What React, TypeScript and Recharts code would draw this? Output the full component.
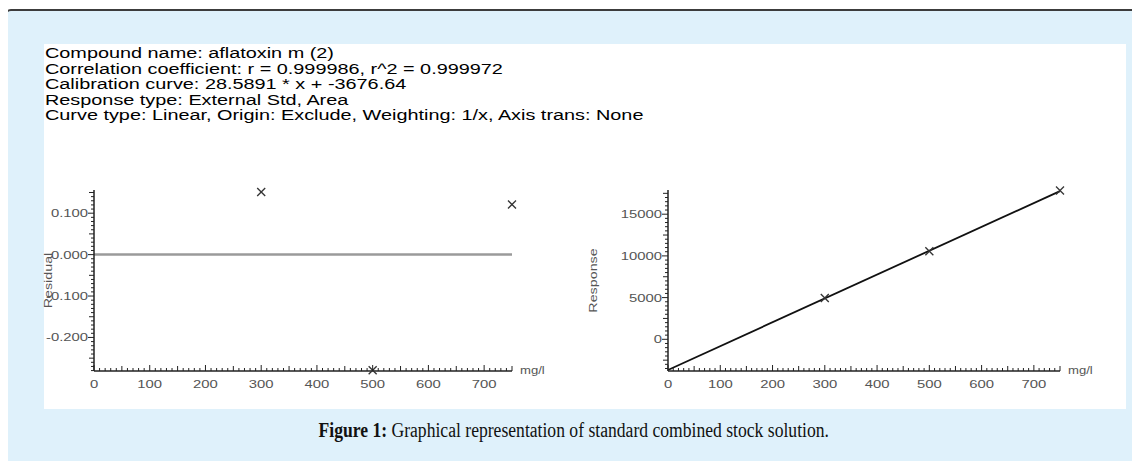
import React from "react";
import {
  ComposedChart,
  Scatter,
  Line,
  XAxis,
  YAxis,
  ReferenceLine,
} from "recharts";

// concentrations (mg/l) of the three standards
const levels = [300, 500, 750];
// residuals
const residuals = [0.151, -0.279, 0.121];
const responses = [4950, 10550, 17850];
// fitted line endpoints: 28.5891 * x + -3676.64
const fitX = [0, 750];
const fitY = [-3677, 17765];

const headerLines = [
  "Compound name: aflatoxin m (2)",
  "Correlation coefficient: r = 0.999986, r^2 = 0.999972",
  "Calibration curve: 28.5891 * x + -3676.64",
  "Response type: External Std, Area",
  "Curve type: Linear, Origin: Exclude, Weighting: 1/x, Axis trans: None",
];

const xLabels = [0, 100, 200, 300, 400, 500, 600, 700];
const residualLabels = [0.1, 0, -0.1, -0.2];
const responseLabels = [0, 5000, 10000, 15000];

const residualData = levels.map((x, i) => ({ x, y: residuals[i] }));
const responseData = levels.map((x, i) => ({ x, y: responses[i] }));
const fitData = fitX.map((x, i) => ({ x, y: fitY[i] }));

// minor tick positions
const xTicks: number[] = [];
for (let v = 0; v <= 750; v += 10) xTicks.push(v);
const resTicks: number[] = [];
for (let i = -28; i <= 15; i++) resTicks.push(i / 100);
const respTicks: number[] = [];
for (let i = -7; i <= 35; i++) respTicks.push(i * 500);

const AXIS = "#222";
const LABEL = "#555";
const FONT = "Liberation Sans, Arial, sans-serif";

const Cross = (props: any) => {
  const { cx, cy } = props;
  if (cx == null || cy == null) return null;
  const s = 4;
  return (
    <g stroke="#333" strokeWidth={1.3}>
      <line x1={cx - s} y1={cy - s} x2={cx + s} y2={cy + s} />
      <line x1={cx - s} y1={cy + s} x2={cx + s} y2={cy - s} />
    </g>
  );
};

const wideText = (x: number, y: number, s: string, anchor: string) => (
  <text
    transform={`translate(${x},${y}) scale(1.35,1)`}
    fontSize={11}
    fontFamily={FONT}
    fill={LABEL}
    textAnchor={anchor}
  >
    {s}
  </text>
);

const XTick = (props: any) => {
  const { x, y, payload } = props;
  const v = Math.round(payload.value);
  const len = v % 100 === 0 ? 6 : v % 50 === 0 ? 5 : 3;
  return (
    <g>
      <line x1={x} y1={y} x2={x} y2={y - len} stroke={AXIS} strokeWidth={1} />
      {xLabels.includes(v) && wideText(x, y + 17, String(v), "middle")}
    </g>
  );
};

const makeYTick = (labels: number[], mid: number, fmt: (v: number) => string) => (props: any) => {
  const { x, y, payload } = props;
  const v = payload.value;
  const isLabel = labels.some((l) => Math.abs(l - v) < 1e-9);
  const isMid = Math.abs(v / mid - Math.round(v / mid)) < 1e-6;
  const len = isLabel ? 6 : isMid ? 5 : 3;
  return (
    <g>
      <line x1={x} y1={y} x2={x - len} y2={y} stroke={AXIS} strokeWidth={1} />
      {isLabel && wideText(x - 6, y + 4, fmt(v), "end")}
    </g>
  );
};

const ResTick = makeYTick(residualLabels, 0.05, (v) => v.toFixed(3));
const RespTick = makeYTick(responseLabels, 2500, (v) => String(v));

const sideLabel = (text: string, dx: number) => (props: any) => {
  const { viewBox } = props;
  const x = viewBox.x + viewBox.width - dx;
  const y = viewBox.y + viewBox.height / 2;
  return (
    <text
      transform={`translate(${x},${y}) rotate(-90) scale(1.3,1)`}
      textAnchor="middle"
      dominantBaseline="central"
      fontSize={11}
      fontFamily={FONT}
      fill={LABEL}
    >
      {text}
    </text>
  );
};

const unitLabel = (props: any) => {
  const { viewBox } = props;
  const x = viewBox.x + viewBox.width + 8;
  return (
    <text
      transform={`translate(${x},${viewBox.y + 3}) scale(1.25,1)`}
      fontSize={10.5}
      fontFamily={FONT}
      fill={LABEL}
    >
      mg/l
    </text>
  );
};

export default function App() {
  return (
    <div
      style={{
        position: "relative",
        width: 1140,
        height: 469,
        margin: -8,
        background: "#fff",
        overflow: "hidden",
      }}
    >
      <div
        style={{
          position: "absolute",
          left: 5,
          top: 9,
          width: 1160,
          height: 500,
          border: "2px solid #3c3c3c",
          borderRadius: 6,
          background: "#dff1fb",
        }}
      />
      <div
        style={{
          position: "absolute",
          left: 44,
          top: 44,
          width: 1082,
          height: 365,
          background: "#fff",
        }}
      />
      <div
        style={{
          position: "absolute",
          left: 45,
          top: 45,
          fontFamily: FONT,
          fontSize: 15.5,
          lineHeight: "15.6px",
          color: "#000",
          transform: "scaleX(1.28)",
          transformOrigin: "left top",
          whiteSpace: "nowrap",
        }}
      >
        {headerLines.map((l) => (
          <div key={l}>{l}</div>
        ))}
      </div>

      <div style={{ position: "absolute", left: 30, top: 170 }}>
        <ComposedChart
          width={534}
          height={235}
          margin={{ top: 20, left: 24, right: 52, bottom: 4 }}
        >
          <XAxis
            type="number"
            dataKey="x"
            domain={[0, 750]}
            ticks={xTicks}
            interval={0}
            height={30}
            tickSize={0}
            tickMargin={0}
            tick={<XTick />}
            axisLine={{ stroke: AXIS, strokeWidth: 1.5 }}
            tickLine={false}
            label={{ content: unitLabel } as any}
          />
          <YAxis
            type="number"
            dataKey="y"
            domain={[-0.281, 0.156]}
            ticks={resTicks}
            interval={0}
            width={40}
            tickSize={0}
            tickMargin={0}
            tick={<ResTick />}
            axisLine={{ stroke: AXIS, strokeWidth: 1.5 }}
            tickLine={false}
            label={{ content: sideLabel("Residual", 46) } as any}
          />
          <ReferenceLine y={0} stroke="#9a9a9a" strokeWidth={2.5} />
          <Scatter data={residualData} shape={<Cross />} isAnimationActive={false} />
        </ComposedChart>
      </div>

      <div style={{ position: "absolute", left: 560, top: 170 }}>
        <ComposedChart
          width={566}
          height={235}
          margin={{ top: 20, left: 28, right: 66, bottom: 4 }}
        >
          <XAxis
            type="number"
            dataKey="x"
            domain={[0, 750]}
            ticks={xTicks}
            interval={0}
            height={30}
            tickSize={0}
            tickMargin={0}
            tick={<XTick />}
            axisLine={{ stroke: AXIS, strokeWidth: 1.5 }}
            tickLine={false}
            label={{ content: unitLabel } as any}
          />
          <YAxis
            type="number"
            dataKey="y"
            domain={[-3800, 17900]}
            ticks={respTicks}
            interval={0}
            width={80}
            tickSize={0}
            tickMargin={0}
            tick={<RespTick />}
            axisLine={{ stroke: AXIS, strokeWidth: 1.5 }}
            tickLine={false}
            label={{ content: sideLabel("Response", 75) } as any}
          />
          <Line
            data={fitData}
            dataKey="y"
            stroke="#111"
            strokeWidth={1.8}
            dot={false}
            isAnimationActive={false}
          />
          <Scatter data={responseData} shape={<Cross />} isAnimationActive={false} />
        </ComposedChart>
      </div>

      <div
        style={{
          position: "absolute",
          left: 6,
          width: 1134,
          top: 419,
          textAlign: "center",
          fontFamily: "Liberation Serif, serif",
          fontSize: 20,
          color: "#111",
          transform: "scaleX(0.88)",
          transformOrigin: "573px 0",
        }}
      >
        <b>Figure 1:</b> Graphical representation of standard combined stock solution.
      </div>
    </div>
  );
}
